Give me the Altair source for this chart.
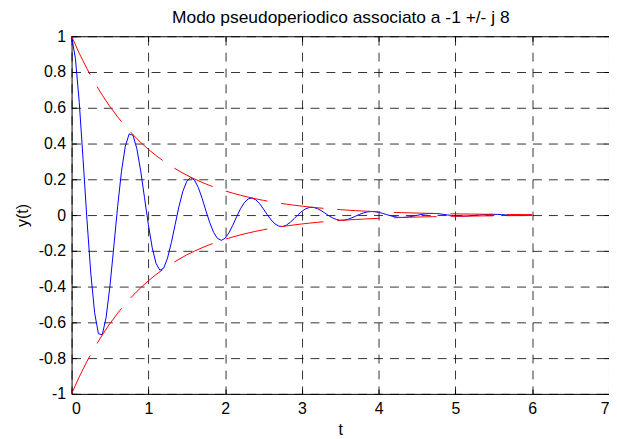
import altair as alt
import pandas as pd

# time samples (s)
t = [0.00, 0.05, 0.10, 0.15, 0.20, 0.25, 0.30, 0.35, 0.40, 0.45,
     0.50, 0.55, 0.60, 0.65, 0.70, 0.75, 0.80, 0.85, 0.90, 0.95,
     1.00, 1.05, 1.10, 1.15, 1.20, 1.25, 1.30, 1.35, 1.40, 1.45,
     1.50, 1.55, 1.60, 1.65, 1.70, 1.75, 1.80, 1.85, 1.90, 1.95,
     2.00, 2.05, 2.10, 2.15, 2.20, 2.25, 2.30, 2.35, 2.40, 2.45,
     2.50, 2.55, 2.60, 2.65, 2.70, 2.75, 2.80, 2.85, 2.90, 2.95,
     3.00, 3.05, 3.10, 3.15, 3.20, 3.25, 3.30, 3.35, 3.40, 3.45,
     3.50, 3.55, 3.60, 3.65, 3.70, 3.75, 3.80, 3.85, 3.90, 3.95,
     4.00, 4.05, 4.10, 4.15, 4.20, 4.25, 4.30, 4.35, 4.40, 4.45,
     4.50, 4.55, 4.60, 4.65, 4.70, 4.75, 4.80, 4.85, 4.90, 4.95,
     5.00, 5.05, 5.10, 5.15, 5.20, 5.25, 5.30, 5.35, 5.40, 5.45,
     5.50, 5.55, 5.60, 5.65, 5.70, 5.75, 5.80, 5.85, 5.90, 5.95,
     6.00]

# pseudo-periodic mode y(t)
y = [1.0000, 0.8761, 0.6304, 0.3119, -0.0239, -0.3241, -0.5463, -0.6640, -0.6692, -0.5718,
     -0.3965, -0.1773, 0.0480, 0.2446, 0.3851, 0.4536, 0.4463, 0.3716, 0.2473, 0.0972,
     -0.0535, -0.1817, -0.2700, -0.3087, -0.2966, -0.2404, -0.1533, -0.0508, 0.0501, 0.1333,
     0.1883, 0.2093, 0.1964, 0.1548, 0.0936, 0.0238, -0.0429, -0.0967, -0.1306, -0.1415,
     -0.1296, -0.0992, -0.0569, -0.0094, 0.0350, 0.0696, 0.0903, 0.0953, 0.0852, 0.0631,
     0.0335, 0.0016, -0.0275, -0.0496, -0.0621, -0.0639, -0.0559, -0.0397, -0.0194, 0.0020,
     0.0211, 0.0354, 0.0426, 0.0428, 0.0364, 0.0251, 0.0110, -0.0034, -0.0159, -0.0248,
     -0.0291, -0.0285, -0.0236, -0.0157, -0.0060, 0.0036, 0.0118, 0.0174, 0.0198, 0.0189,
     0.0153, 0.0097, 0.0031, -0.0033, -0.0086, -0.0121, -0.0134, -0.0125, -0.0098, -0.0059,
     -0.0014, 0.0028, 0.0062, 0.0084, 0.0091, 0.0083, 0.0063, 0.0035, 0.0005, -0.0023,
     -0.0045, -0.0058, -0.0061, -0.0054, -0.0040, -0.0021, -0.0001, 0.0018, 0.0032, 0.0040,
     0.0041, 0.0036, 0.0025, 0.0012, -0.0002, -0.0014, -0.0023, -0.0027, -0.0027, -0.0023,
     -0.0016]

# envelope samples
t_env = [0.0, 0.1, 0.2, 0.3, 0.4, 0.5, 0.6, 0.7, 0.8, 0.9,
         1.0, 1.1, 1.2, 1.3, 1.4, 1.5, 1.6, 1.7, 1.8, 1.9,
         2.0, 2.1, 2.2, 2.3, 2.4, 2.5, 2.6, 2.7, 2.8, 2.9,
         3.0, 3.1, 3.2, 3.3, 3.4, 3.5, 3.6, 3.7, 3.8, 3.9,
         4.0, 4.1, 4.2, 4.3, 4.4, 4.5, 4.6, 4.7, 4.8, 4.9,
         5.0, 5.1, 5.2, 5.3, 5.4, 5.5, 5.6, 5.7, 5.8, 5.9,
         6.0]
env_upper = [1.0000, 0.9048, 0.8187, 0.7408, 0.6703, 0.6065, 0.5488, 0.4966, 0.4493, 0.4066,
             0.3679, 0.3329, 0.3012, 0.2725, 0.2466, 0.2231, 0.2019, 0.1827, 0.1653, 0.1496,
             0.1353, 0.1225, 0.1108, 0.1003, 0.0907, 0.0821, 0.0743, 0.0672, 0.0608, 0.0550,
             0.0498, 0.0450, 0.0408, 0.0369, 0.0334, 0.0302, 0.0273, 0.0247, 0.0224, 0.0202,
             0.0183, 0.0166, 0.0150, 0.0136, 0.0123, 0.0111, 0.0101, 0.0091, 0.0082, 0.0074,
             0.0067, 0.0061, 0.0055, 0.0050, 0.0045, 0.0041, 0.0037, 0.0033, 0.0030, 0.0027,
             0.0025]
env_lower = [-1.0000, -0.9048, -0.8187, -0.7408, -0.6703, -0.6065, -0.5488, -0.4966, -0.4493, -0.4066,
             -0.3679, -0.3329, -0.3012, -0.2725, -0.2466, -0.2231, -0.2019, -0.1827, -0.1653, -0.1496,
             -0.1353, -0.1225, -0.1108, -0.1003, -0.0907, -0.0821, -0.0743, -0.0672, -0.0608, -0.0550,
             -0.0498, -0.0450, -0.0408, -0.0369, -0.0334, -0.0302, -0.0273, -0.0247, -0.0224, -0.0202,
             -0.0183, -0.0166, -0.0150, -0.0136, -0.0123, -0.0111, -0.0101, -0.0091, -0.0082, -0.0074,
             -0.0067, -0.0061, -0.0055, -0.0050, -0.0045, -0.0041, -0.0037, -0.0033, -0.0030, -0.0027,
             -0.0025]

x_ticks = [0, 1, 2, 3, 4, 5, 6, 7]
y_ticks = [-1, -0.8, -0.6, -0.4, -0.2, 0, 0.2, 0.4, 0.6, 0.8, 1]
title_text = "Modo pseudoperiodico associato a -1 +/- j 8"
x_title = "t"
y_title = "y(t)"

FONT = "Liberation Sans"
W, H = 541, 360
LABEL_EXPR = "'' + datum.value"

df_y = pd.DataFrame({"t": t, "y": y})
df_up = pd.DataFrame({"t": t_env, "v": env_upper})
df_lo = pd.DataFrame({"t": t_env, "v": env_lower})

xs = alt.Scale(domain=[0, 7], nice=False, zero=False)
ys = alt.Scale(domain=[-1, 1], nice=False, zero=False)

main_x = alt.Axis(values=x_ticks, title=x_title, labelExpr=LABEL_EXPR, grid=True,
                  ticks=False, tickSize=0, domain=False, labelPadding=7, titlePadding=5)
main_y = alt.Axis(values=y_ticks, title=y_title, labelExpr=LABEL_EXPR, grid=True,
                  ticks=False, tickSize=0, domain=False, labelPadding=6, titlePadding=8)

# chart title carried by a plain top axis (no ticks / labels)
title_axis = alt.Axis(orient="top", values=x_ticks, title=title_text, labels=False, ticks=False,
                      tickSize=0, grid=False, domain=False, titlePadding=10,
                      titleFontSize=17.5, titleFont=FONT, titleFontWeight="normal", titleColor="#000")


def tick_axis(orient, values, offset):
    return alt.Axis(orient=orient, offset=offset, values=values, labels=False, grid=False,
                    domain=False, ticks=True, tickSize=5, tickColor="#000", title=None)


# invisible carrier of the title axis
title_layer = alt.Chart(df_y).mark_line(strokeOpacity=0).encode(
    x=alt.X("t:Q", scale=xs, axis=title_axis),
    y=alt.Y("y:Q", scale=ys, axis=None),
)

blue = alt.Chart(df_y).mark_line(color="#0000ff", strokeWidth=1).encode(
    x=alt.X("t:Q", scale=xs, axis=main_x),
    y=alt.Y("y:Q", scale=ys, axis=main_y),
)

red_up = alt.Chart(df_up).mark_line(color="#ff0000", strokeWidth=1, strokeDash=[43, 14]).encode(
    x=alt.X("t:Q", scale=xs, axis=tick_axis("top", x_ticks, -H)),
    y=alt.Y("v:Q", scale=ys, axis=tick_axis("right", y_ticks, -W)),
)

red_lo = alt.Chart(df_lo).mark_line(color="#ff0000", strokeWidth=1, strokeDash=[43, 14]).encode(
    x=alt.X("t:Q", scale=xs, axis=tick_axis("bottom", x_ticks, -H)),
    y=alt.Y("v:Q", scale=ys, axis=tick_axis("left", y_ticks, -W)),
)

chart = alt.layer(title_layer, blue, red_up, red_lo).resolve_axis(
    x="independent", y="independent"
).properties(
    width=W, height=H,
    padding={"left": 64, "top": 27, "right": 0, "bottom": 45},
    autosize="none",
).configure_view(
    stroke="#000", strokeWidth=1
).configure_axis(
    labelFont=FONT, labelFontSize=16, labelColor="#000",
    titleFont=FONT, titleFontSize=16, titleFontWeight="normal", titleColor="#000",
    gridColor="#000", gridDash=[9, 7], gridWidth=1, gridOpacity=0.8,
)

chart.save("out.html", embed_options={"renderer": "svg", "actions": False})
